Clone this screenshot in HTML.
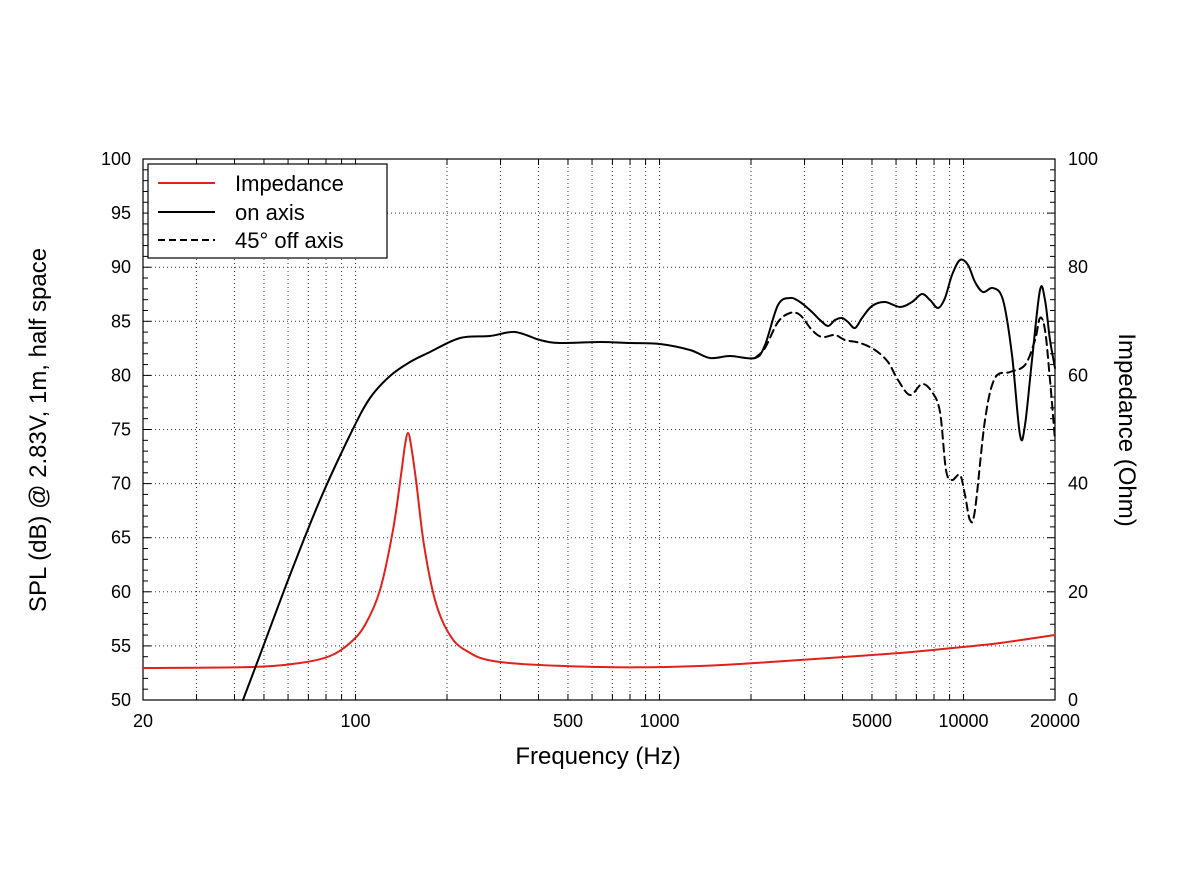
<!DOCTYPE html>
<html><head><meta charset="utf-8"><style>
body{margin:0;background:#fff}
svg text{font-family:"Liberation Sans",Arial,sans-serif;fill:#000}
</style></head><body>
<svg id="s" width="1184" height="888" xmlns="http://www.w3.org/2000/svg">
<g id="grid"></g>
<rect x="143" y="159" width="912" height="541" fill="none" stroke="#000" stroke-width="1.2"/>
<g id="tk"></g>
<g fill="none" stroke-linejoin="round" stroke-linecap="round">
<path id="red" stroke="#e0201b" stroke-width="2"/>
<path id="dash" stroke="#000" stroke-width="2" stroke-dasharray="8,5"/>
<path id="on" stroke="#000" stroke-width="2"/>
</g>
<rect x="148" y="164" width="239" height="94" fill="#fff" stroke="#000" stroke-width="1.2"/>
<line x1="158" y1="183" x2="215" y2="183" stroke="#e0201b" stroke-width="2"/>
<line x1="158" y1="212" x2="215" y2="212" stroke="#000" stroke-width="2"/>
<line x1="158" y1="240" x2="215" y2="240" stroke="#000" stroke-width="2" stroke-dasharray="7,4"/>
<text x="235" y="191" font-size="22">Impedance</text>
<text x="235" y="220" font-size="22">on axis</text>
<text x="235" y="248" font-size="22">45° off axis</text>
<text x="598" y="764" font-size="24" text-anchor="middle">Frequency (Hz)</text>
<text transform="translate(46,430) rotate(-90)" font-size="24" text-anchor="middle">SPL (dB) @ 2.83V, 1m, half space</text>
<text transform="translate(1119,430) rotate(90)" font-size="24" text-anchor="middle">Impedance (Ohm)</text>
<g id="lab" font-size="18"></g>
</svg>
<script>
var NS="http://www.w3.org/2000/svg";
function el(p,t,a,txt){var e=document.createElementNS(NS,t);for(var k in a)e.setAttribute(k,a[k]);if(txt!=null)e.textContent=txt;document.getElementById(p).appendChild(e);}
function X(f){return 143+912*Math.log10(f/20)/3;}
var L=143,R=1055,T=159,B=700;
for(var d=1;d<=10000;d*=10)for(var m=1;m<10;m++){var f=d*m;if(f<=20||f>=20000)continue;var x=X(f);el("grid","line",{x1:x,x2:x,y1:T,y2:B,stroke:"#333","stroke-width":1,"stroke-dasharray":"1,3"});}
for(var v=55;v<100;v+=5){var y=700-(v-50)*541/50;el("grid","line",{x1:L,x2:R,y1:y,y2:y,stroke:"#333","stroke-width":1,"stroke-dasharray":"1,3"});}
for(var v=50;v<=100;v++){var y=700-(v-50)*541/50;var l=v%5==0?8:5;el("tk","line",{x1:L,x2:L+l,y1:y,y2:y,stroke:"#000"});}
for(var v=0;v<=100;v+=2){var y=700-v*5.41;var l=v%10==0?8:5;el("tk","line",{x1:R,x2:R-l,y1:y,y2:y,stroke:"#000"});}
for(var d=10;d<=10000;d*=10)for(var m=1;m<10;m++){var f=d*m;if(f<20||f>20000)continue;var x=X(f);el("tk","line",{x1:x,x2:x,y1:B,y2:B-6,stroke:"#000"});el("tk","line",{x1:x,x2:x,y1:T,y2:T+6,stroke:"#000"});}
for(var v=50;v<=100;v+=5){var y=700-(v-50)*541/50;el("lab","text",{x:131,y:y+6,"text-anchor":"end"},v);}
for(var v=0;v<=100;v+=20){var y=700-v*5.41;el("lab","text",{x:1068,y:y+6},v);}
[[20,"20"],[100,"100"],[500,"500"],[1000,"1000"],[5000,"5000"],[10000,"10000"],[20000,"20000"]].forEach(function(a){el("lab","text",{x:X(a[0]),y:727,"text-anchor":"middle"},a[1]);});
function cr(p){var s="M"+p[0][0]+","+p[0][1];for(var i=0;i<p.length-1;i++){var a=p[Math.max(i-1,0)],b=p[i],c=p[i+1],d=p[Math.min(i+2,p.length-1)];s+=" C"+(b[0]+(c[0]-a[0])/6).toFixed(1)+","+(b[1]+(c[1]-a[1])/6).toFixed(1)+" "+(c[0]-(d[0]-b[0])/6).toFixed(1)+","+(c[1]-(d[1]-b[1])/6).toFixed(1)+" "+c[0]+","+c[1];}return s;}
var base=[[243,700],[260,655],[290,575],[320,500],[350,435],[370,398],[390,376],[410,362],[430,352],[460,338],[490,336],[515,332],[540,340],[560,343],[600,342],[630,343],[660,344],[690,350],[710,358],[730,356],[755,358]];
var on=base.concat([[765,345],[778,305],[790,298],[800,302],[812,312],[820,320],[828,326],[835,320],[842,318],[848,322],[855,328],[862,318],[872,306],[885,302],[900,307],[912,302],[922,294],[930,300],[938,308],[945,298],[952,275],[960,260],[968,265],[975,282],[983,292],[993,288],[1003,300],[1012,355],[1020,435],[1025,425],[1032,360],[1040,290],[1045,300],[1050,340],[1055,368]]);
var dash=[[755,358],[765,348],[778,322],[790,313],[800,315],[812,330],[822,337],[835,335],[845,340],[860,343],[875,350],[888,362],[898,380],[910,395],[922,384],[932,392],[940,412],[946,470],[952,480],[960,475],[965,495],[970,520],[975,510],[985,420],[995,378],[1010,372],[1025,365],[1035,340],[1040,318],[1045,330],[1050,380],[1055,440]];
var red=[[143,668],[250,667],[300,663],[330,656],[350,643],[365,625],[380,590],[393,530],[401,475],[405,445],[408,433],[411,445],[416,480],[424,545],[435,600],[448,632],[465,650],[500,662],[600,667],[700,666],[800,660],[900,653],[963,647],[1000,643],[1055,635]];
document.getElementById("on").setAttribute("d",cr(on));
document.getElementById("dash").setAttribute("d",cr(dash));
document.getElementById("red").setAttribute("d",cr(red));
</script>
</body></html>
